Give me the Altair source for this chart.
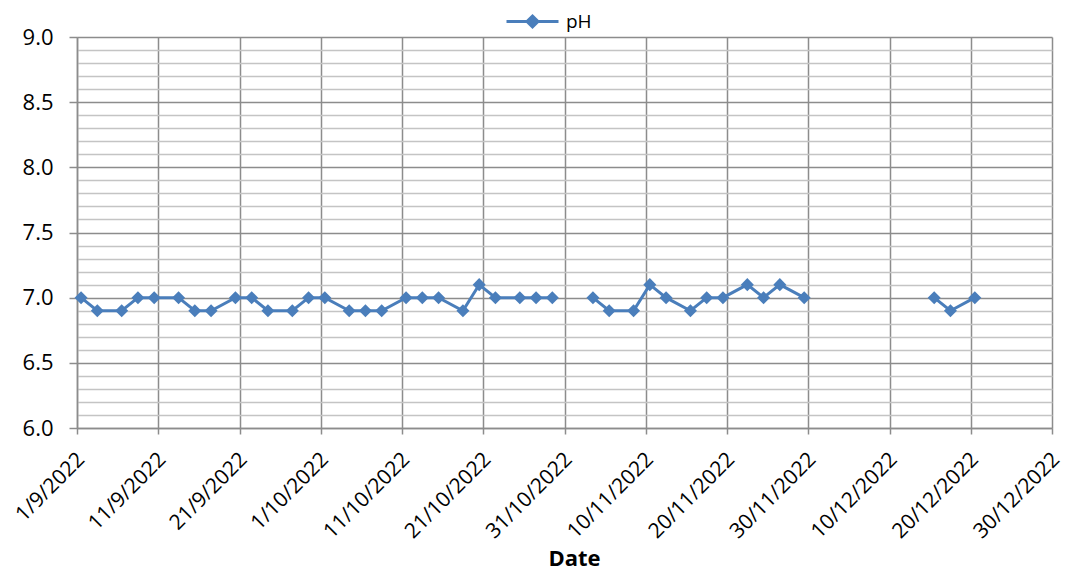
import altair as alt
import pandas as pd

dates = ["2022-09-01", "2022-09-03", "2022-09-06", "2022-09-08", "2022-09-10",
         "2022-09-13", "2022-09-15", "2022-09-17", "2022-09-20", "2022-09-22",
         "2022-09-24", "2022-09-27", "2022-09-29", "2022-10-01", "2022-10-04",
         "2022-10-06", "2022-10-08", "2022-10-11", "2022-10-13", "2022-10-15",
         "2022-10-18", "2022-10-20", "2022-10-22", "2022-10-25", "2022-10-27",
         "2022-10-29", "2022-11-03", "2022-11-05", "2022-11-08", "2022-11-10",
         "2022-11-12", "2022-11-15", "2022-11-17", "2022-11-19", "2022-11-22",
         "2022-11-24", "2022-11-26", "2022-11-29", "2022-12-15", "2022-12-17",
         "2022-12-20"]
ph = [7.0, 6.9, 6.9, 7.0, 7.0,
      7.0, 6.9, 6.9, 7.0, 7.0,
      6.9, 6.9, 7.0, 7.0, 6.9,
      6.9, 6.9, 7.0, 7.0, 7.0,
      6.9, 7.1, 7.0, 7.0, 7.0,
      7.0, 7.0, 6.9, 6.9, 7.1,
      7.0, 6.9, 7.0, 7.0, 7.1,
      7.0, 7.1, 7.0, 7.0, 6.9,
      7.0]
series_name = "pH"
x_tick_dates = [(2022, 9, 1), (2022, 9, 11), (2022, 9, 21), (2022, 10, 1),
                (2022, 10, 11), (2022, 10, 21), (2022, 10, 31), (2022, 11, 10),
                (2022, 11, 20), (2022, 11, 30), (2022, 12, 10), (2022, 12, 20),
                (2022, 12, 30)]
y_ticks = [round(6.0 + i * 0.1, 1) for i in range(31)]

df = pd.DataFrame({"date": dates, "ph": ph})
d = pd.to_datetime(df["date"])
df["seg"] = (d.diff().dt.days > 4).cumsum()
df["series"] = series_name

BLUE = "#4A7EBB"
MAJOR = "#8c8c8c"
MINOR = "#c4c4c4"
FONT = "Open Sans"

def dt(y, m, dd):
    return alt.DateTime(year=y, month=m, date=dd, utc=True)

major_test = "round(datum.value*10) % 5 === 0"

x_enc = alt.X(
    "t:T",
    title="Date",
    scale=alt.Scale(type="utc", domain=[dt(*x_tick_dates[0]), dt(*x_tick_dates[-1])], nice=False),
    axis=alt.Axis(
        values=[dt(*v) for v in x_tick_dates],
        labelExpr="utcFormat(datum.value, '%-d/%-m/%Y')",
        labelAngle=-45, labelAlign="right", labelBaseline="middle",
        labelPadding=22, labelOffset=4, labelFont=FONT, labelFontSize=21, labelColor="black",
        tickSize=6, tickColor=MAJOR, tickWidth=1.5,
        domainColor=MAJOR, domainWidth=1.5,
        grid=True, gridColor=MAJOR, gridWidth=1.5,
        labelOverlap=False, labelBound=False, labelFlush=False,
        titleFont=FONT, titleFontSize=22, titleFontWeight="bold", titleColor="black",
        titleX=497, titleY=137, titleAlign="center", titleBaseline="alphabetic",
    ),
)
y_enc = alt.Y(
    "ph:Q",
    title=None,
    scale=alt.Scale(domain=[6.0, 9.0], nice=False, zero=False),
    axis=alt.Axis(
        values=y_ticks,
        labelExpr=f"{major_test} ? format(datum.value, '.1f') : ''",
        labelFont=FONT, labelFontSize=22, labelColor="black", labelPadding=16,
        tickSize=8, tickColor=MAJOR, tickWidth=1.5,
        tickOpacity={"condition": {"test": major_test, "value": 1}, "value": 0},
        domainColor=MAJOR, domainWidth=1.5,
        grid=True,
        gridColor={"condition": {"test": major_test, "value": MAJOR}, "value": MINOR},
        gridWidth=1.5,
        labelOverlap=False,
    ),
)
color_enc = alt.Color(
    "series:N",
    scale=alt.Scale(range=[BLUE]),
    legend=alt.Legend(
        title=None, orient="none", legendX=444, legendY=-27, padding=0,
        symbolType="M-2.6,0L2.6,0M0,-0.55L0.55,0L0,0.55L-0.55,0Z",
        symbolSize=400, symbolStrokeWidth=3,
        symbolFillColor=BLUE, symbolStrokeColor=BLUE, symbolOpacity=1,
        labelFont=FONT, labelFontSize=19, labelColor="black", labelOffset=22,
    ),
)

base = alt.Chart(df).transform_calculate(t="toDate(datum.date) + 43200000")

line = base.mark_line(strokeWidth=3).encode(x=x_enc, y=y_enc, color=color_enc, detail="seg:N")
pts = base.mark_point(shape="diamond", filled=True, size=170, opacity=1).encode(
    x=x_enc, y=y_enc, color=color_enc
)

chart = alt.layer(line, pts).properties(
    width=975, height=391,
    autosize=alt.AutoSizeParams(type="none"),
    padding={"left": 69, "top": 29, "right": 12, "bottom": 142},
    background="white",
).configure_view(strokeWidth=0)

chart.save("out.html", embed_options={"renderer": "svg", "actions": False})
